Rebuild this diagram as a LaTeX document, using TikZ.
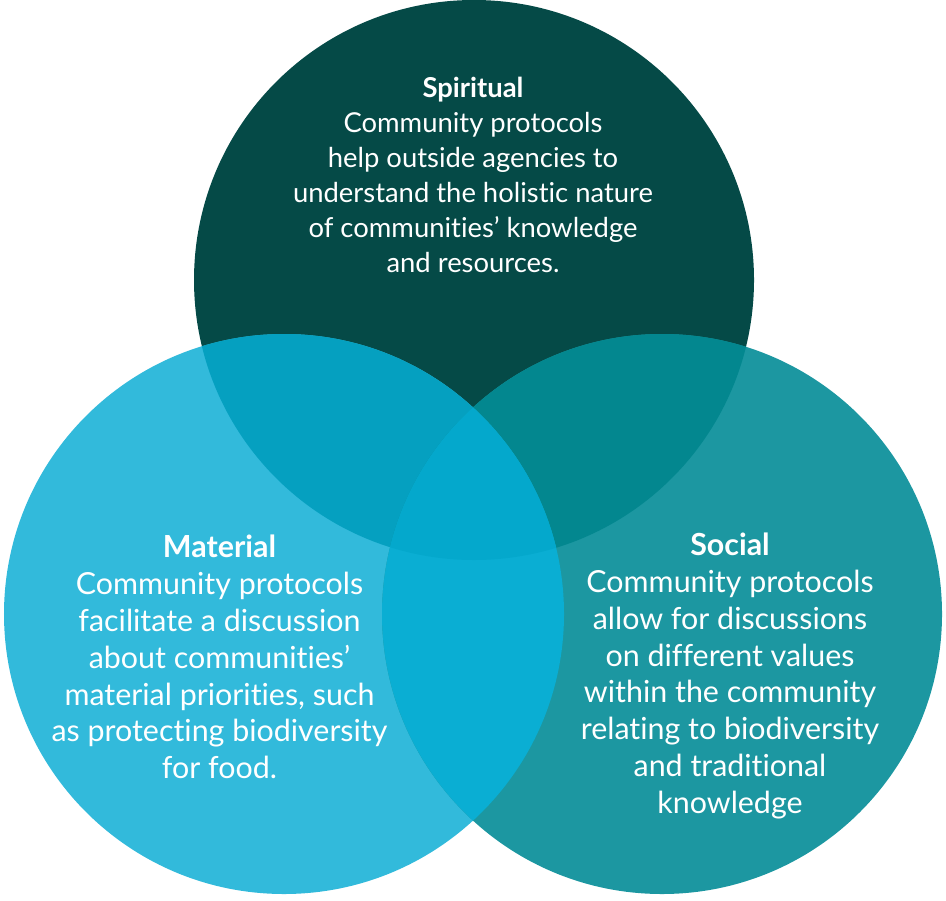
\documentclass[tikz,border=0pt]{standalone}
\usepackage{fontspec}
\setmainfont{Lato}[Ligatures=CommonOff]
\usetikzlibrary{positioning}
\definecolor{spiritcol}{HTML}{054A47}
\definecolor{matcol}{HTML}{32BADB}
\definecolor{soccol}{HTML}{1C97A1}
\definecolor{spmatcol}{HTML}{05A0C0}
\definecolor{spsoccol}{HTML}{03878F}
\definecolor{matsoccol}{HTML}{0AAED3}
\definecolor{allcol}{HTML}{04A8CC}
\tikzset{
    venntext/.style={text=white, align=center, inner sep=0pt, font=\fontsize{17.3}{21}\selectfont},
}

\begin{document}
\begin{tikzpicture}
    \useasboundingbox (0,0) rectangle (18.92,18);

    % Circle centres
    \coordinate (spiritual) at (9.48,12.4);
    \coordinate (material) at (5.68,5.72);
    \coordinate (social) at (13.24,5.72);

    % Circles
    \foreach \c/\col in {spiritual/spiritcol, material/matcol, social/soccol} {
        \fill[\col] (\c) circle (5.6);
    }

    % Overlaps
    \begin{scope}
        \clip (spiritual) circle (5.6);
        \fill[spmatcol] (material) circle (5.6);
        \fill[spsoccol] (social) circle (5.6);
    \end{scope}
    \begin{scope}
        \clip (material) circle (5.6);
        \fill[matsoccol] (social) circle (5.6);
        \clip (social) circle (5.6);
        \fill[allcol] (spiritual) circle (5.6);
    \end{scope}

    % Texts
    \node[venntext, font=\fontsize{15.6}{20}\selectfont] (spirittext) at (9.46,14.5) {\textbf{Spiritual}\\
        Community protocols\\
        help outside agencies to\\
        understand the holistic nature\\
        of communities’ knowledge\\
        and resources.};
    \node[venntext] (mattext) at (4.39,4.86) {\textbf{Material}\\
        Community protocols\\
        facilitate a discussion\\
        about communities’\\
        material priorities, such\\
        as protecting biodiversity\\
        for food.};
    \node[venntext] (soctext) at (14.6,4.48) {\textbf{Social}\\
        Community protocols\\
        allow for discussions\\
        on different values\\
        within the community\\
        relating to biodiversity\\
        and traditional\\
        knowledge};
\end{tikzpicture}
\end{document}
